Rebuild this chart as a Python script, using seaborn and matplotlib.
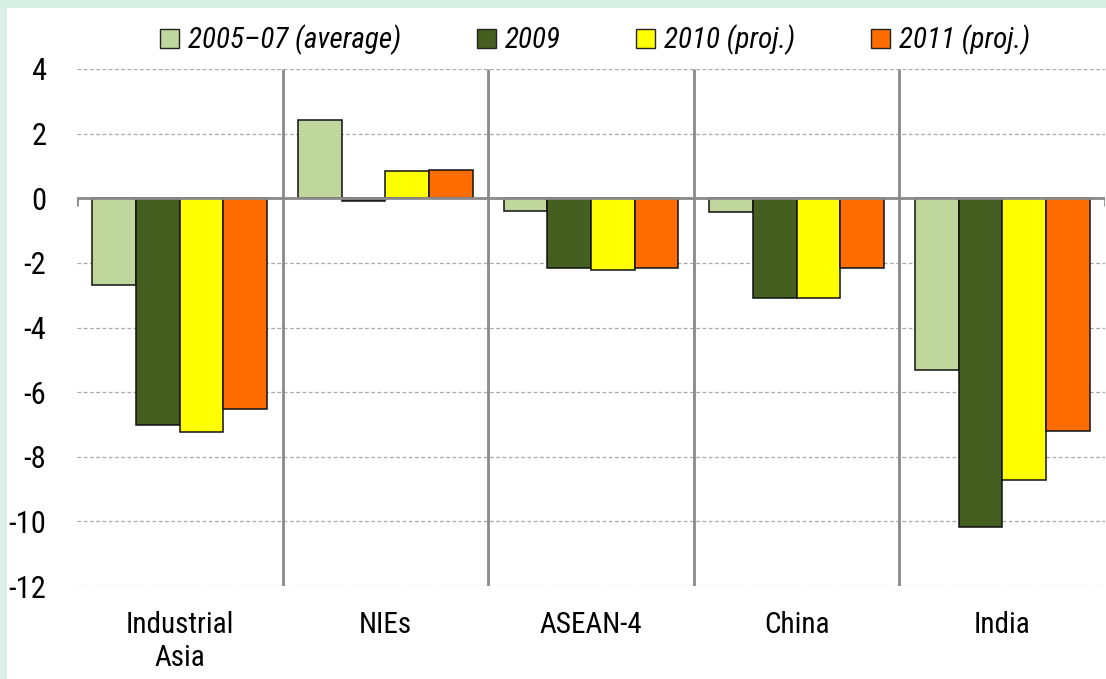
import matplotlib
matplotlib.use("Agg")
import matplotlib.pyplot as plt
from matplotlib import font_manager as fm
from matplotlib.patches import Patch, Rectangle
import seaborn as sns
import pandas as pd
import numpy as np

# ---- data ----
regions = ["Industrial\nAsia", "NIEs", "ASEAN-4", "China", "India"]
series_names = ["2005–07 (average)", "2009", "2010 (proj.)", "2011 (proj.)"]
avg_2005_07 = [-2.68, 2.41, -0.41, -0.44, -5.30]
y2009 = [-7.03, -0.10, -2.17, -3.10, -10.16]
y2010 = [-7.22, 0.84, -2.23, -3.10, -8.72]
y2011 = [-6.52, 0.87, -2.15, -2.17, -7.20]
yticks = [-12, -10, -8, -6, -4, -2, 0, 2, 4]

colors = ["#bfd79c", "#445f1f", "#ffff00", "#ff6d00"]

rows = []
for name, vals in zip(series_names, [avg_2005_07, y2009, y2010, y2011]):
    for r, v in zip(regions, vals):
        rows.append({"region": r, "series": name, "value": v})
df = pd.DataFrame(rows)

sns.set_theme(style="white")
names = {f.name for f in fm.fontManager.ttflist}
cond = next((n for n in ["Roboto Condensed", "Liberation Sans Narrow", "DejaVu Sans"] if n in names), "DejaVu Sans")
plt.rcParams["font.family"] = [cond, "DejaVu Sans"]
plt.rcParams["text.color"] = "black"
plt.rcParams["xtick.color"] = "black"
plt.rcParams["ytick.color"] = "black"

W, H = 1106, 679
fig = plt.figure(figsize=(W / 100, H / 100), dpi=100, facecolor="#d9f0e7")
fig.patches.append(Rectangle((7 / W, 0), 1 - 7 / W, 1 - 8 / H, transform=fig.transFigure,
                             facecolor="white", edgecolor="none", zorder=-10))

left, right, top, bottom = 77, 1105, 69, 586
ax = fig.add_axes([left / W, 1 - bottom / H, (right - left) / W, (bottom - top) / H])
ax.set_facecolor("none")

sns.barplot(data=df, x="region", y="value", hue="series", hue_order=series_names,
            order=regions, palette=colors, width=0.85, edgecolor="#111111",
            linewidth=1.1, legend=False, ax=ax, saturation=1, zorder=3)

ax.set_xlim(-0.5, len(regions) - 0.5)
ax.set_ylim(min(yticks), max(yticks))
ax.set_yticks(yticks)
ax.set_yticklabels([str(t) for t in yticks])
ax.set_axisbelow(True)
ax.yaxis.grid(True, linestyle=(0, (3, 2)), color="#a8a8a8", linewidth=0.9)
ax.xaxis.grid(False)
for s in ax.spines.values():
    s.set_visible(False)

# zero axis line, separators, end ticks
ax.axhline(0, color="#8a8a8a", linewidth=2, zorder=4)
bounds = np.arange(0.5, len(regions) - 0.5, 1.0)
ax.vlines(bounds, min(yticks), max(yticks), color="#8a8a8a", linewidth=2, zorder=2)
ax.vlines([-0.5, len(regions) - 0.5], -0.25, 0, color="#8a8a8a", linewidth=2, zorder=4)

ax.tick_params(axis="y", length=0, pad=22, labelsize=22, labelcolor="black")
ax.tick_params(axis="x", length=0, pad=18, labelsize=21, labelcolor="black")
for lab in ax.get_xticklabels():
    lab.set_linespacing(1.25)
ax.set_xlabel("")
ax.set_ylabel("")

handles = [Patch(facecolor=c, edgecolor="#222222", linewidth=1.0) for c in colors]
fig.legend(handles, series_names, loc="center", bbox_to_anchor=(595 / W, 1 - 40 / H),
           ncol=4, frameon=False, handlelength=0.65, handleheight=0.65,
           handletextpad=0.3, columnspacing=2.6, labelcolor="black",
           prop={"family": [cond, "DejaVu Sans"], "style": "italic", "size": 21})

fig.savefig("out.png", dpi=100, facecolor=fig.get_facecolor())
